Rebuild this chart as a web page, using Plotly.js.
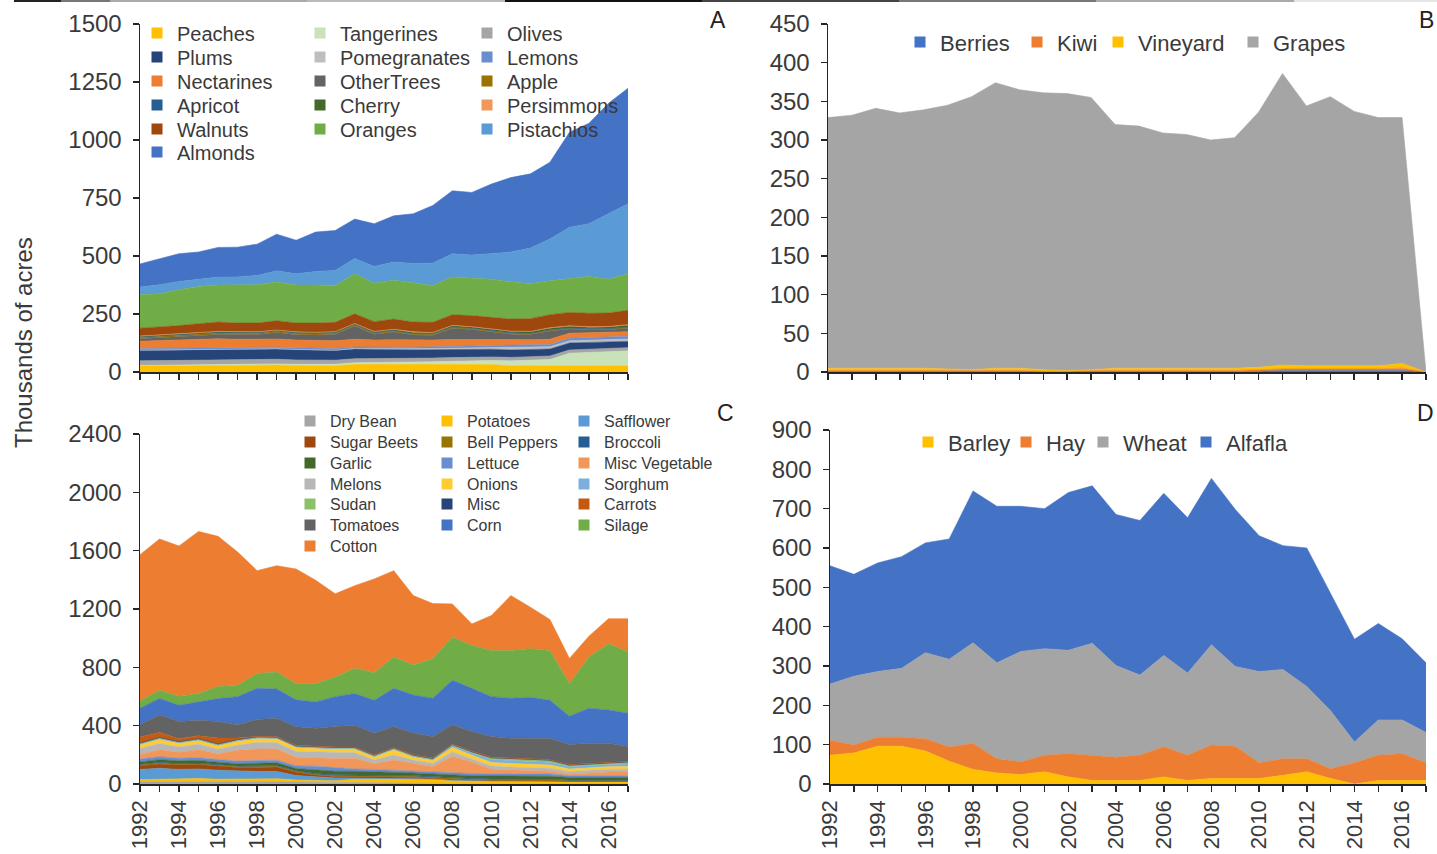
<!DOCTYPE html>
<html>
<head>
<meta charset="utf-8">
<script src="https://cdn.plot.ly/plotly-3.0.1.min.js"></script>
<style>
    html, body { margin: 0; padding: 0; background: #fff; }
    #chart { width: 1437px; height: 854px; }
</style>
</head>
<body>
<div id="chart"></div>
<script>
/****************************************************************************************
* Data: crop area in thousands of acres, 1992 - 2017 (stack order is bottom -> top)
****************************************************************************************/
const years = [1992, 1993, 1994, 1995, 1996, 1997, 1998, 1999, 2000, 2001, 2002, 2003, 2004,
               2005, 2006, 2007, 2008, 2009, 2010, 2011, 2012, 2013, 2014, 2015, 2016, 2017];

// A - tree crops
const treeNames = ['Peaches', 'Tangerines', 'Olives', 'Plums', 'Pomegranates', 'Lemons',
                   'Nectarines', 'OtherTrees', 'Apple', 'Apricot', 'Cherry', 'Persimmons',
                   'Walnuts', 'Oranges', 'Pistachios', 'Almonds'];
const peaches      = [26, 27, 28, 28, 28, 29, 30, 30, 28, 28, 27, 33, 32, 33, 33, 33, 33, 33, 32, 27, 26, 26, 26, 26, 26, 26];
const tangerines   = [2, 2, 3, 3, 4, 4, 5, 5, 5, 6, 6, 7, 8, 9, 10, 11, 13, 15, 18, 21, 25, 28, 55, 58, 60, 65];
const olives       = [20, 20, 20, 21, 21, 20, 20, 20, 19, 19, 18, 17, 17, 17, 16, 16, 16, 16, 15, 15, 15, 15, 14, 14, 14, 14];
const plums        = [45, 45, 46, 46, 46, 45, 44, 44, 44, 43, 42, 42, 40, 38, 37, 36, 35, 34, 33, 32, 31, 30, 30, 29, 28, 27];
const pomegranates = [1, 1, 1, 1, 1, 1, 1, 1, 1, 1, 1, 2, 2, 3, 4, 5, 6, 7, 8, 9, 10, 10, 10, 10, 10, 10];
const lemons       = [7, 7, 7, 7, 7, 7, 7, 7, 7, 7, 7, 7, 7, 7, 7, 7, 7, 8, 8, 12, 10, 10, 10, 10, 11, 12];
const nectarines   = [32, 33, 34, 35, 36, 35, 35, 35, 34, 34, 34, 33, 32, 32, 31, 30, 30, 28, 26, 24, 22, 22, 22, 22, 21, 20];
const otherTrees   = [10, 12, 13, 16, 19, 21, 20, 28, 23, 21, 28, 57, 25, 33, 21, 20, 49, 42, 33, 23, 23, 36, 18, 12, 12, 15];
const apple        = [6, 6, 6, 6, 6, 5, 5, 5, 5, 5, 4, 4, 4, 4, 4, 4, 3, 3, 3, 3, 3, 3, 3, 3, 3, 3];
const apricot      = [3, 3, 3, 3, 3, 3, 3, 3, 3, 3, 3, 3, 3, 3, 3, 3, 3, 3, 3, 3, 2, 2, 2, 2, 2, 2];
const cherry       = [2, 2, 2, 2, 2, 2, 2, 2, 3, 3, 3, 3, 4, 4, 4, 4, 5, 5, 5, 6, 6, 7, 7, 7, 7, 8];
const persimmons   = [1, 1, 1, 2, 2, 1, 1, 1, 1, 1, 1, 1, 1, 1, 3, 1, 1, 1, 1, 1, 2, 2, 2, 2, 2, 2];
const walnuts      = [34, 35, 36, 38, 40, 38, 38, 40, 38, 40, 40, 42, 42, 44, 42, 44, 46, 48, 50, 52, 55, 56, 58, 58, 58, 62];
const oranges      = [144, 143, 155, 161, 160, 164, 165, 167, 164, 164, 159, 172, 166, 167, 168, 159, 162, 160, 165, 161, 150, 146, 145, 159, 146, 157];
const pistachios   = [33, 39, 35, 31, 34, 35, 40, 48, 48, 58, 65, 66, 72, 79, 85, 96, 101, 101, 110, 128, 154, 180, 222, 227, 282, 302];
const almonds      = [100, 111, 120, 117, 128, 128, 135, 158, 145, 170, 172, 170, 184, 199, 214, 249, 271, 270, 300, 321, 320, 331, 409, 433, 476, 498];

// B - vine crops
const vineNames = ['Berries', 'Kiwi', 'Vineyard', 'Grapes'];
const berries  = [0, 0, 0, 0, 0, 0, 0, 0, 0, 0, 0, 0, 0, 0, 0, 0, 0, 0, 1, 2, 2, 2, 2, 2, 2, 0];
const kiwi     = [2, 2, 2, 2, 2, 2, 2, 2, 2, 1, 1, 2, 2, 2, 2, 2, 2, 2, 2, 2, 2, 2, 2, 2, 3, 0];
const vineyard = [3, 3, 3, 3, 3, 2, 1, 3, 3, 2, 1, 1, 3, 3, 3, 3, 3, 3, 3, 5, 4, 4, 4, 4, 6, 0];
const grapes   = [324, 327, 336, 330, 334, 341, 353, 369, 360, 358, 358, 352, 315, 313, 304, 302, 295, 298, 330, 377, 336, 348, 329, 321, 318, 0];

// C - row crops
const rowNames = ['Dry Bean', 'Potatoes', 'Safflower', 'Sugar Beets', 'Bell Peppers', 'Broccoli',
                  'Garlic', 'Lettuce', 'Misc Vegetable', 'Melons', 'Onions', 'Sorghum',
                  'Sudan', 'Misc', 'Carrots', 'Tomatoes', 'Corn', 'Silage', 'Cotton'];
const dryBean       = [18, 18, 20, 20, 18, 18, 16, 18, 14, 12, 10, 8, 6, 5, 5, 5, 4, 4, 4, 4, 4, 4, 3, 3, 3, 3];
const potatoes      = [12, 15, 18, 18, 15, 15, 15, 18, 14, 12, 12, 25, 28, 28, 28, 25, 18, 15, 12, 12, 12, 12, 10, 10, 10, 10];
const safflower     = [70, 75, 62, 65, 62, 55, 55, 50, 30, 25, 20, 8, 6, 6, 6, 4, 4, 5, 6, 6, 6, 5, 5, 5, 5, 5];
const sugarBeets    = [25, 30, 30, 30, 28, 25, 28, 30, 22, 12, 10, 10, 8, 8, 8, 6, 6, 4, 2, 2, 1, 1, 0, 0, 0, 0];
const bellPeppers   = [5, 5, 5, 5, 5, 5, 5, 5, 5, 5, 5, 5, 5, 5, 5, 5, 5, 5, 5, 5, 5, 5, 4, 4, 4, 4];
const broccoli      = [6, 6, 6, 6, 6, 6, 6, 6, 6, 6, 6, 6, 6, 6, 6, 6, 6, 6, 6, 6, 6, 6, 5, 5, 5, 5];
const garlic        = [15, 18, 18, 18, 16, 15, 18, 18, 15, 25, 25, 25, 25, 20, 18, 18, 18, 18, 20, 20, 20, 20, 18, 18, 18, 18];
const lettuce       = [20, 20, 18, 18, 18, 18, 18, 18, 18, 25, 25, 16, 16, 16, 16, 16, 15, 15, 15, 15, 15, 15, 12, 12, 12, 12];
const miscVegetable = [32, 48, 41, 55, 39, 74, 79, 78, 59, 57, 62, 74, 39, 70, 47, 34, 114, 79, 31, 26, 24, 20, 10, 19, 26, 27];
const melons        = [40, 42, 35, 38, 32, 35, 45, 42, 40, 40, 40, 38, 25, 35, 25, 22, 30, 22, 22, 20, 20, 20, 18, 18, 18, 18];
const onions        = [25, 28, 24, 24, 22, 25, 25, 25, 25, 22, 22, 22, 20, 35, 20, 20, 30, 25, 25, 25, 22, 22, 18, 18, 18, 18];
const sorghum       = [8, 8, 8, 8, 8, 8, 8, 8, 8, 8, 8, 8, 8, 8, 8, 8, 15, 15, 20, 20, 20, 18, 15, 15, 15, 18];
const sudan         = [2, 2, 2, 2, 2, 2, 2, 2, 2, 2, 2, 2, 2, 2, 2, 2, 2, 4, 8, 10, 12, 12, 8, 8, 10, 10];
const misc          = [4, 4, 4, 4, 4, 4, 4, 4, 4, 4, 4, 4, 4, 4, 4, 4, 4, 4, 4, 4, 4, 4, 4, 4, 4, 4];
const carrots       = [40, 35, 20, 20, 40, 10, 3, 3, 3, 3, 3, 3, 3, 3, 3, 3, 3, 3, 3, 3, 3, 3, 3, 3, 3, 3];
const tomatoes      = [84, 120, 117, 107, 113, 91, 115, 126, 127, 125, 140, 149, 148, 143, 148, 148, 132, 136, 143, 136, 140, 145, 138, 138, 129, 103];
const corn          = [114, 112, 112, 125, 158, 193, 214, 201, 185, 180, 205, 217, 225, 262, 262, 262, 305, 296, 273, 274, 281, 262, 194, 240, 228, 227];
const silage        = [50, 57, 62, 57, 82, 78, 101, 116, 111, 125, 135, 173, 189, 215, 205, 271, 296, 294, 317, 328, 333, 342, 223, 351, 454, 420];
const cotton        = [1002, 1037, 1030, 1112, 1030, 914, 706, 729, 786, 709, 570, 567, 643, 592, 476, 378, 228, 148, 239, 376, 284, 212, 173, 143, 171, 228];

// D - field crops
const fieldNames = ['Barley', 'Hay', 'Wheat', 'Alfafla'];
const barley  = [73, 79, 96, 96, 84, 58, 37, 28, 24, 31, 18, 9, 9, 9, 18, 9, 14, 14, 14, 22, 31, 14, 0, 9, 9, 9];
const hay     = [38, 20, 23, 23, 31, 36, 66, 36, 32, 42, 59, 64, 59, 64, 77, 64, 85, 82, 40, 42, 33, 25, 54, 64, 68, 45];
const wheat   = [143, 175, 167, 175, 219, 223, 256, 244, 281, 271, 263, 285, 233, 204, 232, 209, 255, 203, 232, 227, 184, 147, 53, 90, 86, 77];
const alfalfa = [301, 259, 276, 284, 279, 306, 386, 398, 369, 356, 401, 400, 384, 393, 412, 395, 423, 399, 345, 315, 352, 299, 261, 245, 206, 177];

/****************************************************************************************
* Styles
****************************************************************************************/
const W = 1437, H = 854;
const FONT = 'Liberation Sans, Arial, sans-serif';
const INK = '#3a3a3a';
const AXIS = '#262626';

const treeColors = ['#FFC000', '#C9E2B8', '#A5A5A5', '#264478', '#BFBFBF', '#698ED0',
                    '#ED7D31', '#636363', '#997300', '#255E91', '#43682B', '#F1975A',
                    '#9E480E', '#70AD47', '#5B9BD5', '#4472C4'];
const vineColors = ['#4472C4', '#ED7D31', '#FFC000', '#A5A5A5'];
const rowColors = ['#A5A5A5', '#FFC000', '#5B9BD5', '#9E480E', '#997300', '#255E91',
                   '#43682B', '#698ED0', '#F1975A', '#B7B7B7', '#FFCD33', '#7CAFDD',
                   '#8CC168', '#264478', '#C55A11', '#636363', '#4472C4', '#70AD47', '#ED7D31'];
const fieldColors = ['#FFC000', '#ED7D31', '#A5A5A5', '#4472C4'];

// pixel -> paper helpers
const px = (x) => x / W;
const py = (y) => 1 - y / H;

/****************************************************************************************
* Panels
****************************************************************************************/
// legend cells: cols = x where each column's text starts, rows = y of each row centre
let panels = [
    { id: '',  names: treeNames, colors: treeColors,
      series: [peaches, tangerines, olives, plums, pomegranates, lemons, nectarines, otherTrees,
               apple, apricot, cherry, persimmons, walnuts, oranges, pistachios, almonds],
      xDom: [140, 628], yDom: [372, 24], yMax: 1500, dtick: 250, labels: false,
      legend: { cols: [177, 340, 507], rows: [33, 57, 81, 105, 129, 152], font: 20 } },
    { id: '2', names: vineNames, colors: vineColors,
      series: [berries, kiwi, vineyard, grapes],
      xDom: [828, 1426], yDom: [372, 24], yMax: 450, dtick: 50, labels: false,
      legend: { cols: [940, 1057, 1138, 1273], rows: [42], font: 22 } },
    { id: '3', names: rowNames, colors: rowColors,
      series: [dryBean, potatoes, safflower, sugarBeets, bellPeppers, broccoli, garlic, lettuce,
               miscVegetable, melons, onions, sorghum, sudan, misc, carrots, tomatoes, corn, silage, cotton],
      xDom: [140, 628], yDom: [784, 434], yMax: 2400, dtick: 400, labels: true,
      legend: { cols: [330, 467, 604], rows: [421, 442, 463, 484, 504, 525, 546], font: 16 } },
    { id: '4', names: fieldNames, colors: fieldColors,
      series: [barley, hay, wheat, alfalfa],
      xDom: [830, 1426], yDom: [784, 430], yMax: 900, dtick: 100, labels: true,
      legend: { cols: [948, 1046, 1123, 1226], rows: [442], font: 22 } }
];

let data = [];
let layout = {
    width: W, height: H,
    margin: { l: 0, r: 0, t: 0, b: 0 },
    paper_bgcolor: '#fff', plot_bgcolor: '#fff',
    font: { family: FONT, color: INK },
    showlegend: true,
    annotations: [],
    shapes: []
};

let legendCount = 0;

panels.forEach((p) => {
    let xa = 'x' + p.id, ya = 'y' + p.id;

    // stacked areas
    p.series.forEach((vals, i) => {
        data.push({
            type: 'scatter', x: years, y: vals, name: p.names[i],
            xaxis: xa, yaxis: ya, stackgroup: 'g' + (p.id || '1'),
            mode: 'lines', line: { width: 0.6, color: p.colors[i] },
            fillcolor: p.colors[i], showlegend: false, hoverinfo: 'x+y+name'
        });
    });

    // legend: one small legend per cell, so every entry sits where the reference has it
    let lg = p.legend;
    let rowH = lg.font * 1.3 + 3;
    p.names.forEach((name, i) => {
        let c = i % lg.cols.length, r = Math.floor(i / lg.cols.length);
        legendCount++;
        let key = legendCount === 1 ? 'legend' : 'legend' + legendCount;
        layout[key] = {
            orientation: 'h', traceorder: 'normal',
            x: px(lg.cols[c] - 40), xanchor: 'left',
            y: py(lg.rows[r] - rowH / 2 - 5), yanchor: 'top',
            bgcolor: 'rgba(0,0,0,0)', borderwidth: 0,
            font: { family: FONT, size: lg.font, color: INK }
        };
        data.push({
            type: 'scatter', x: [null], y: [null], name: name,
            xaxis: xa, yaxis: ya, mode: 'markers', legend: key,
            marker: { symbol: 'square', size: 11, color: p.colors[i] },
            showlegend: true, hoverinfo: 'skip'
        });
    });

    // axes
    layout['xaxis' + p.id] = {
        domain: [px(p.xDom[0]), px(p.xDom[1])], anchor: ya,
        range: [1992, 2017], tick0: 1992, dtick: p.labels ? 2 : 1,
        ticks: 'outside', ticklen: 6, tickwidth: 1.5, tickcolor: AXIS,
        showline: true, linecolor: AXIS, linewidth: 1.5,
        showgrid: false, zeroline: false,
        showticklabels: p.labels, tickangle: -90,
        tickfont: { family: FONT, size: 22, color: INK },
        minor: p.labels ? { dtick: 1, tick0: 1992, ticks: 'outside', ticklen: 6, tickwidth: 1.5, tickcolor: AXIS } : undefined,
        fixedrange: true
    };
    layout['yaxis' + p.id] = {
        domain: [py(p.yDom[0]), py(p.yDom[1])], anchor: xa,
        range: [0, p.yMax], tick0: 0, dtick: p.dtick,
        ticks: 'outside', ticklen: 6, tickwidth: 1.5, tickcolor: AXIS,
        showline: true, linecolor: AXIS, linewidth: 1.5,
        showgrid: false, zeroline: false,
        ticklabelstandoff: 6,
        tickfont: { family: FONT, size: 24, color: INK },
        fixedrange: true
    };
});

// panel letters and the shared y title
const letters = [['A', 718, 20, 'center'], ['B', 1436, 20, 'right'], ['C', 725, 413, 'center'], ['D', 1436, 413, 'right']];
letters.forEach(([t, x, y, anchor]) => {
    layout.annotations.push({
        text: t, xref: 'paper', yref: 'paper', x: px(x), y: py(y),
        xanchor: anchor, yanchor: 'middle',
        showarrow: false, font: { family: FONT, size: 23, color: '#222' }
    });
});
layout.annotations.push({
    text: 'Thousands of acres', xref: 'paper', yref: 'paper', x: px(23), y: py(343),
    xanchor: 'center', yanchor: 'middle', textangle: -90, showarrow: false,
    font: { family: FONT, size: 24, color: INK }
});

// thin strip along the top edge of the picture
const topStrip = [[14, 61, '#222'], [61, 110, '#777'], [110, 307, '#aaa'], [307, 505, '#bbb'],
                  [505, 702, '#111'], [702, 899, '#444'], [899, 1096, '#777'], [1096, 1294, '#aaa'],
                  [1294, 1437, '#e5e5e5']];
topStrip.forEach(([x0, x1, c]) => {
    layout.shapes.push({
        type: 'rect', xref: 'paper', yref: 'paper', x0: px(x0), x1: px(x1), y0: py(2), y1: 1,
        line: { width: 0 }, fillcolor: c
    });
});

Plotly.newPlot('chart', data, layout, { staticPlot: true, displayModeBar: false });
</script>
</body>
</html>
